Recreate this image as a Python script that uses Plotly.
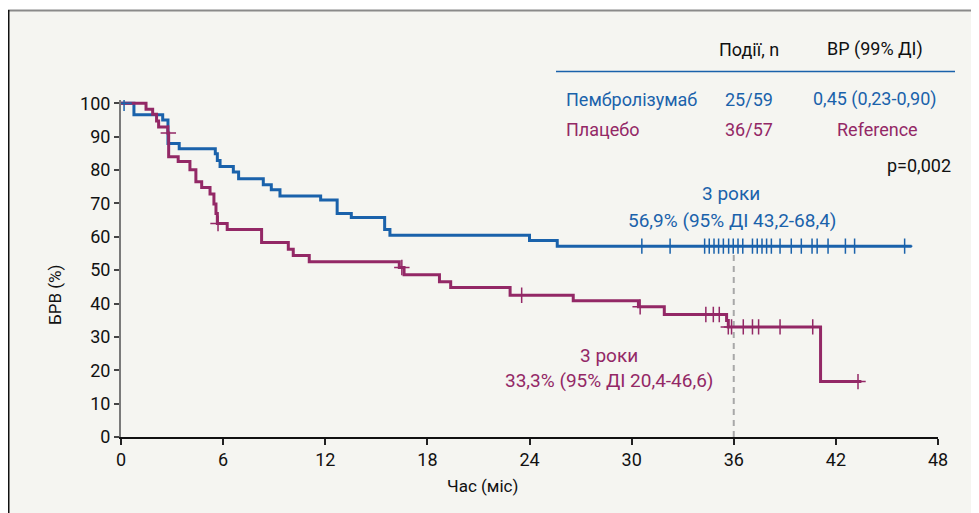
import plotly.graph_objects as go

# ---- data ----
pembro_t = [0, 0.76, 2.45, 2.76, 3.42, 5.54, 5.66, 5.82, 6.6, 6.91, 8.36, 8.83, 9.34,
            11.73, 12.7, 13.53, 15.49, 15.8, 24.0, 25.63, 46.45]
pembro_s = [100, 96.6, 95.0, 88.0, 86.4, 84.9, 82.9, 81.1, 79.4, 77.4, 75.6, 74.1, 72.2,
            71.0, 67.0, 65.8, 62.2, 60.5, 58.9, 57.2, 57.2]
pembro_cens_t = [0.18, 30.6, 32.26, 34.29, 34.56, 34.84, 35.11, 35.39, 35.7, 35.97, 36.25,
                 36.53, 37.1, 37.38, 37.66, 37.93, 38.21, 38.72, 39.38, 39.97, 40.6, 40.9,
                 41.54, 42.56, 43.1, 46.04]
pembro_cens_s = [100] + [57.2] * 25

placebo_t = [0, 1.47, 1.86, 2.09, 2.21, 2.75, 2.8, 3.36, 4.05, 4.4, 4.74, 5.23, 5.46, 5.58,
             5.66, 6.24, 8.26, 9.83, 10.12, 11.06, 16.35, 16.63, 18.71, 19.37, 22.86, 26.57,
             30.4, 31.92, 35.58, 35.68, 41.1, 43.5]
placebo_s = [100, 98.2, 96.7, 94.7, 92.9, 91.1, 84.0, 82.6, 80.1, 76.5, 74.8, 72.8, 69.8, 67.0,
             64.0, 62.2, 58.3, 56.3, 54.4, 52.5, 50.8, 48.6, 46.5, 44.8, 42.5, 40.8,
             39.0, 36.7, 34.9, 33.0, 16.6, 16.6]
placebo_cens_t = [2.78, 5.7, 16.5, 23.54, 30.5, 34.36, 34.8, 35.15, 35.68, 35.87, 36.56, 37.1,
                  37.46, 38.72, 40.64, 43.3]
placebo_cens_s = [91.1, 64.0, 50.8, 42.5, 39.0, 36.7, 36.7, 36.7, 33.0, 33.0, 33.0, 33.0,
                  33.0, 33.0, 33.0, 16.6]

x_ticks = [0, 6, 12, 18, 24, 30, 36, 42, 48]
y_ticks = [0, 10, 20, 30, 40, 50, 60, 70, 80, 90, 100]
landmark_month = 36
landmark_top = 57.2

BLUE = "#1a62ab"
MAG = "#932866"
TXT = "#111111"
FONT = "Roboto, Noto Sans, sans-serif"

OFF = 8  # page body margin
W, H = 979 - OFF, 513 - OFF
ML, MR, MT, MB = 113, 41, 92, 76
PW, PH = W - ML - MR, H - MT - MB


def px(xp):
    return (xp - OFF - ML) / PW


def py(yp):
    return (H - MB - (yp - OFF)) / PH


fig = go.Figure()

fig.add_trace(go.Scatter(x=pembro_t, y=pembro_s, mode="lines", line_shape="hv",
                         line=dict(color=BLUE, width=3), hoverinfo="skip"))
fig.add_trace(go.Scatter(x=placebo_t, y=placebo_s, mode="lines", line_shape="hv",
                         line=dict(color=MAG, width=3), hoverinfo="skip"))
fig.add_trace(go.Scatter(x=pembro_cens_t, y=pembro_cens_s, mode="markers",
                         marker=dict(symbol="cross-thin", size=11,
                                     line=dict(color=BLUE, width=1.5)),
                         hoverinfo="skip"))
fig.add_trace(go.Scatter(x=placebo_cens_t, y=placebo_cens_s, mode="markers",
                         marker=dict(symbol="cross-thin", size=11,
                                     line=dict(color=MAG, width=1.5)),
                         hoverinfo="skip"))

shapes = [
    # panel background + frame
    dict(type="rect", xref="paper", yref="paper", x0=px(8), x1=px(1000),
         y0=py(540), y1=py(10), fillcolor="#f5f5f1", line=dict(width=0), layer="below"),
    dict(type="line", xref="paper", yref="paper", x0=px(8), x1=px(1000),
         y0=py(10.5), y1=py(10.5), line=dict(color="#8a8a8a", width=2)),
    dict(type="line", xref="paper", yref="paper", x0=px(8.5), x1=px(8.5),
         y0=py(540), y1=py(10), line=dict(color="#111111", width=2)),
    # table rule
    dict(type="line", xref="paper", yref="paper", x0=px(556), x1=px(955),
         y0=py(71.5), y1=py(71.5), line=dict(color=BLUE, width=1.5)),
    # landmark dashed line
    dict(type="line", xref="x", yref="y", x0=landmark_month, x1=landmark_month,
         y0=0, y1=landmark_top - 1.5, line=dict(color="#a8a8a8", width=2, dash="6px,5px"),
         layer="below"),
]

ann = []


def add(text, x, y, color=TXT, size=18, xanchor="center"):
    ann.append(dict(text=text, x=px(x), y=py(y), xref="paper", yref="paper",
                    xanchor=xanchor, yanchor="middle", showarrow=False,
                    font=dict(family=FONT, size=size, color=color)))


add("Події, n", 749, 49)
add("ВР (99% ДІ)", 874.5, 49)
add("Пембролізумаб", 564, 99, BLUE, xanchor="left")
add("25/59", 749, 99, BLUE)
add("0,45 (0,23-0,90)", 875, 99, BLUE)
add("Плацебо", 564, 130, MAG, xanchor="left")
add("36/57", 749, 130, MAG)
add("Reference", 877, 130, MAG)
add("p=0,002", 953, 165, TXT, xanchor="right")
add("3 роки", 731, 193, BLUE, size=19)
add("56,9% (95% ДІ 43,2-68,4)", 732, 220, BLUE, size=19)
add("3 роки", 609, 355, MAG, size=19)
add("33,3% (95% ДІ 20,4-46,6)", 609, 380, MAG, size=19)
add("Час (міс)", 482, 486, TXT, size=17)
ann.append(dict(text="БРВ (%)", x=px(55), y=py(295), xref="paper", yref="paper",
                textangle=-90, showarrow=False, xanchor="center", yanchor="middle",
                font=dict(family=FONT, size=17, color=TXT)))

fig.update_layout(
    width=W, height=H,
    margin=dict(l=ML, r=MR, t=MT, b=MB, pad=0),
    paper_bgcolor="white", plot_bgcolor="rgba(0,0,0,0)",
    showlegend=False,
    shapes=shapes, annotations=ann,
    font=dict(family=FONT, color=TXT),
    xaxis=dict(range=[0, 48], tickvals=x_ticks, ticktext=[str(v) for v in x_ticks],
               ticks="outside", ticklen=6, tickwidth=1.5, tickcolor="#222",
               showline=True, linecolor="#111", linewidth=1.5,
               showgrid=False, zeroline=False, tickfont=dict(size=18, color=TXT)),
    yaxis=dict(range=[0, 101], tickvals=y_ticks, ticktext=[str(v) for v in y_ticks],
               ticks="outside", ticklen=5, tickwidth=1.5, tickcolor="#444",
               showline=True, linecolor="#7a7a7a", linewidth=2,
               showgrid=False, zeroline=False, tickfont=dict(size=18, color=TXT)),
)

fig.write_html("out.html")
